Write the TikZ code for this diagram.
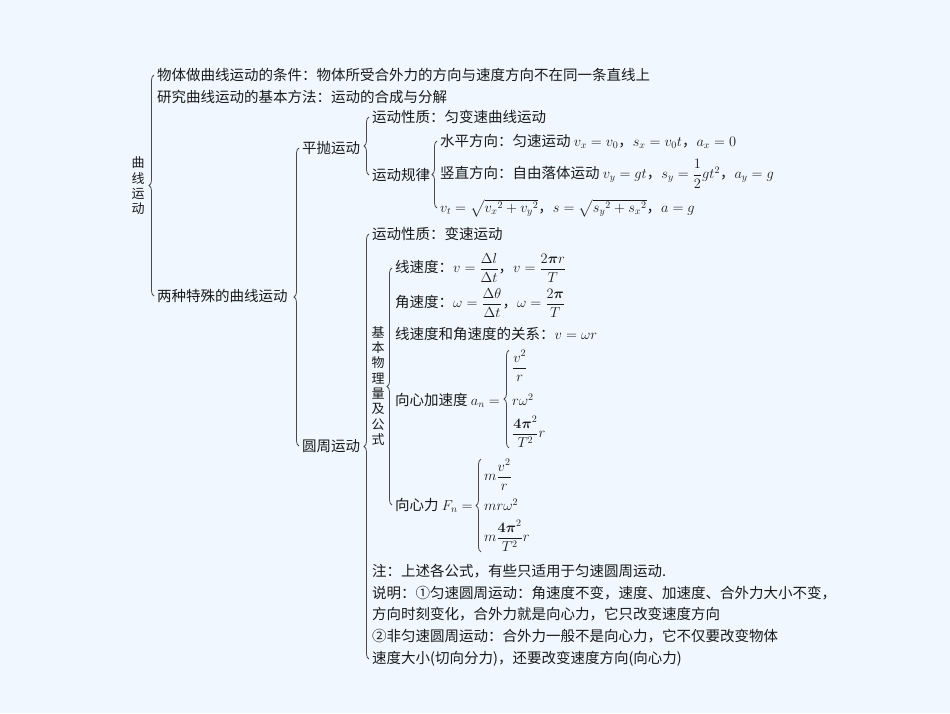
\documentclass[tikz,border=0pt]{standalone}
\usepackage[no-math]{fontspec}
\usepackage{amsmath}
\setmainfont{Noto Sans CJK SC}
\usetikzlibrary{decorations.pathreplacing,positioning}
\definecolor{paper}{HTML}{F0F7FE}
\definecolor{ink}{HTML}{1A1A1A}
\definecolor{rule}{HTML}{4A4A4A}
\tikzset{item/.style={anchor=west,inner sep=0pt,text=ink,font=\fontsize{14.5}{20}\selectfont},vlabel/.style={align=center,inner sep=0pt,text=ink,font=\fontsize{13}{15.3}\selectfont},brc/.style={decorate,decoration={brace,amplitude=5pt},draw=rule,line width=0.8pt}}
\begin{document}
\begin{tikzpicture}[x=1pt,y=-1pt]
\fill[paper] (0,0) rectangle (950,713);
\useasboundingbox (0,0) rectangle (950,713);
\node[vlabel] (quxian) at (138,186) {曲\\线\\运\\动};
\node[item] (tiaojian) at (157,75) {物体做曲线运动的条件：物体所受合外力的方向与速度方向不在同一条直线上};
\node[item] (fangfa) at (157,97) {研究曲线运动的基本方法：运动的合成与分解};
\node[item] (teshu) at (157,296) {两种特殊的曲线运动};
\node[item] (pingpao) at (302,148) {平抛运动};
\node[item] (yuanzhou) at (302,446) {圆周运动};
% 平抛运动
\node[item] (ppxz) at (372,117) {运动性质：匀变速曲线运动};
\node[item] (guilv) at (372,175) {运动规律};
\node[item] (shuiping) at (440,141) {水平方向：匀速运动 $v_x=v_0$，$s_x=v_0t$，$a_x=0$};
\node[item] (shuzhi) at (440,174) {竖直方向：自由落体运动 $v_y=gt$，$s_y=\dfrac{1}{2}gt^2$，$a_y=g$};
\node[item] (hecheng) at (440,208) {$v_t=\sqrt{v_x{}^2+v_y{}^2}$，$s=\sqrt{s_y{}^2+s_x{}^2}$，$a=g$};
% 圆周运动
\node[item] (yzxz) at (372,234) {运动性质：变速运动};
\node[vlabel] (jiben) at (378,386) {基\\本\\物\\理\\量\\及\\公\\式};
\node[item] (xiansudu) at (395,268) {线速度：$v=\dfrac{\Delta l}{\Delta t}$，$v=\dfrac{2\boldsymbol{\pi} r}{T}$};
\node[item] (jiaosudu) at (395,303) {角速度：$\omega=\dfrac{\Delta\theta}{\Delta t}$，$\omega=\dfrac{2\boldsymbol{\pi}}{T}$};
\node[item] (guanxi) at (395,334) {线速度和角速度的关系：$v=\omega r$};
\node[item] (xjsd) at (395,400) {向心加速度 $a_n=$};
\node[item] (xxl) at (395,505) {向心力 $F_n=$};
\node[item] (a1) at (512,366) {$\dfrac{v^2}{r}$};
\node[item] (a2) at (512,400) {$r\omega^2$};
\node[item] (a3) at (512,432) {$\dfrac{\boldsymbol{4\pi}^2}{T^2}r$};
\node[item] (f1) at (484,475) {$m\dfrac{v^2}{r}$};
\node[item] (f2) at (484,505) {$mr\omega^2$};
\node[item] (f3) at (484,536) {$m\dfrac{\boldsymbol{4\pi}^2}{T^2}r$};
\node[item] (zhu1) at (372,571) {注：上述各公式，有些只适用于匀速圆周运动.};
\node[item] (zhu2) at (372,593) {说明：①匀速圆周运动：角速度不变，速度、加速度、合外力大小不变，};
\node[item] (zhu3) at (372,614) {方向时刻变化，合外力就是向心力，它只改变速度方向};
\node[item] (zhu4) at (372,636) {②非匀速圆周运动：合外力一般不是向心力，它不仅要改变物体};
\node[item] (zhu5) at (372,659) {速度大小(切向分力)，还要改变速度方向(向心力)};
% braces
\draw[brc] ([xshift=-3pt]teshu.west) -- ([xshift=-3pt]tiaojian.west);
\draw[brc] ([xshift=-3pt]yuanzhou.west) -- ([xshift=-3pt]pingpao.west);
\draw[brc] ([xshift=-3pt]guilv.west) -- ([xshift=-3pt]ppxz.west);
\draw[brc] ([xshift=-3pt]hecheng.west) -- ([xshift=-3pt]shuiping.west);
\draw[brc] ([xshift=-3pt]zhu5.west) -- ([xshift=-3pt]yzxz.west);
\draw[brc] ([xshift=-3pt]xxl.west) -- ([xshift=-3pt]xiansudu.west);
\draw[brc] ([xshift=-3pt]a3.south west) -- ([xshift=-3pt]a1.north west);
\draw[brc] ([xshift=-3pt]f3.south west) -- ([xshift=-3pt]f1.north west);
\end{tikzpicture}
\end{document}
